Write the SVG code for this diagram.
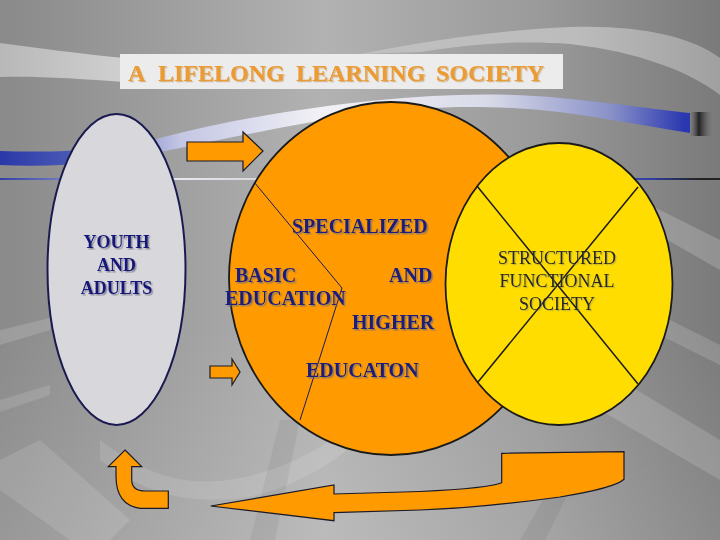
<svg xmlns="http://www.w3.org/2000/svg" width="720" height="540" viewBox="0 0 720 540">
<defs>
<linearGradient id="bg" x1="0" y1="0" x2="1" y2="0">
<stop offset="0" stop-color="#8a8a8a"/>
<stop offset="0.45" stop-color="#b2b2b2"/>
<stop offset="0.75" stop-color="#9a9a9a"/>
<stop offset="1" stop-color="#7a7a7a"/>
</linearGradient>
<linearGradient id="bgv" x1="0" y1="0" x2="0" y2="1">
<stop offset="0" stop-color="#ffffff" stop-opacity="0"/>
<stop offset="0.6" stop-color="#ffffff" stop-opacity="0"/>
<stop offset="1" stop-color="#ffffff" stop-opacity="0.12"/>
</linearGradient>
<linearGradient id="band" x1="0" y1="0" x2="720" y2="0" gradientUnits="userSpaceOnUse">
<stop offset="0" stop-color="#2a38a8"/>
<stop offset="0.12" stop-color="#5060b8"/>
<stop offset="0.25" stop-color="#c4c6e4"/>
<stop offset="0.45" stop-color="#f2f2f6"/>
<stop offset="0.68" stop-color="#d8dae8"/>
<stop offset="0.85" stop-color="#8890c8"/>
<stop offset="0.95" stop-color="#2a38b0"/>
</linearGradient>
<linearGradient id="hline" x1="0" y1="0" x2="720" y2="0" gradientUnits="userSpaceOnUse">
<stop offset="0" stop-color="#3040a8"/>
<stop offset="0.25" stop-color="#e8e8f0"/>
<stop offset="0.5" stop-color="#c0c0c8"/>
<stop offset="0.9" stop-color="#3040a8"/>
<stop offset="0.97" stop-color="#222"/>
</linearGradient>
<linearGradient id="swoosh" x1="0" y1="0" x2="1" y2="0">
<stop offset="0" stop-color="#c0c0c0"/>
<stop offset="0.6" stop-color="#bcbcbc"/>
<stop offset="1" stop-color="#a0a0a0"/>
</linearGradient>
<linearGradient id="swooshL" x1="0" y1="0" x2="1" y2="0">
<stop offset="0" stop-color="#b8b8b8"/>
<stop offset="1" stop-color="#d0d0d0"/>
</linearGradient>
<linearGradient id="endcap" x1="0" y1="0" x2="1" y2="0">
<stop offset="0" stop-color="#555" stop-opacity="0"/>
<stop offset="0.4" stop-color="#222"/>
<stop offset="1" stop-color="#777" stop-opacity="0.3"/>
</linearGradient>
<filter id="sh" x="-10%" y="-20%" width="130%" height="150%">
<feDropShadow dx="1.5" dy="1.5" stdDeviation="0.3" flood-color="#6a6a80" flood-opacity="0.7"/>
</filter>
<filter id="shY" x="-10%" y="-20%" width="130%" height="150%">
<feDropShadow dx="1.2" dy="1.2" stdDeviation="0.2" flood-color="#8a8a60" flood-opacity="0.5"/>
</filter>
<filter id="shT" x="-10%" y="-20%" width="130%" height="150%">
<feDropShadow dx="1.2" dy="1.2" stdDeviation="0.3" flood-color="#a06010" flood-opacity="0.4"/>
</filter>
<style>
.ser{font-family:"Liberation Serif","Times New Roman",serif;}
.navy{fill:#1c1c7a;font-weight:bold;font-size:20px;}
.yt{fill:#14147a;font-weight:bold;font-size:18px;text-anchor:middle;}
.st{fill:#262626;font-size:18px;text-anchor:middle;}
.arrow{fill:#ff9a00;stroke:#1a1a2a;stroke-width:1.2;stroke-linejoin:miter;}
.edge{stroke:#1a1a1a;stroke-width:1.8;}
</style>
</defs>

<!-- background -->
<g id="background">
<rect x="0" y="0" width="720" height="540" fill="url(#bg)"/>
<rect x="0" y="0" width="720" height="540" fill="url(#bgv)"/>
<path d="M0,43 C40,48 80,54 125,58 L125,82 C80,79 40,76 0,77 Z" fill="url(#swooshL)"/>
<path d="M360,54 C430,40 500,30 570,27 C640,25 690,36 720,58 L720,95 C690,72 640,52 570,44 C520,40 470,44 420,52 Z" fill="url(#swoosh)"/>
<path d="M0,151 C60,153 120,150 160,138 C230,120 300,108 380,100 C440,94 500,92 560,98 C620,104 660,110 690,113 L690,133 C640,125 590,115 540,110 C470,104 420,108 380,112 C300,122 230,138 160,152 C110,162 60,168 0,165 Z" fill="url(#band)"/>
<rect x="690" y="112" width="22" height="24" fill="url(#endcap)"/>
<rect x="0" y="178" width="720" height="2" fill="url(#hline)"/>
<rect x="700" y="178" width="20" height="2" fill="#222"/>
<path d="M0,330 L50,318 L50,330 L0,345 Z" fill="#ffffff" opacity="0.15"/>
<path d="M0,400 L50,385 L50,395 L0,412 Z" fill="#ffffff" opacity="0.12"/>
<path d="M0,460 L40,440 L130,520 L110,540 L70,540 L0,490 Z" fill="#ffffff" opacity="0.12"/>
<path d="M100,440 C140,470 180,490 240,478 C300,466 330,440 360,420 L375,430 C340,455 300,490 240,498 C180,505 140,490 100,460 Z" fill="#ffffff" opacity="0.12"/>
<path d="M640,200 L720,240 L720,270 L650,230 Z" fill="#ffffff" opacity="0.18"/>
<path d="M650,310 L720,345 L720,365 L660,335 Z" fill="#ffffff" opacity="0.15"/>
<path d="M620,380 L720,440 L720,480 L600,410 Z" fill="#ffffff" opacity="0.15"/>
<path d="M250,540 L280,420 L300,420 L275,540 Z" fill="#000000" opacity="0.05"/>
<path d="M520,540 L560,470 L580,470 L545,540 Z" fill="#000000" opacity="0.06"/>
</g>

<!-- title -->
<g id="title">
<rect x="120" y="54" width="443" height="35" fill="#ececec"/>
<text class="ser" y="81" font-size="24" font-weight="bold" fill="#ec9a30" filter="url(#shT)"><tspan x="128">A</tspan><tspan x="158">LIFELONG</tspan><tspan x="296">LEARNING</tspan><tspan x="436">SOCIETY</tspan></text>
</g>

<!-- left node -->
<g id="youth-adults">
<ellipse cx="116.5" cy="269.5" rx="69" ry="155.5" fill="#d8d8dc" stroke="#1a1a50" stroke-width="2"/>
<text class="ser yt" filter="url(#sh)"><tspan x="116.5" y="248">YOUTH</tspan><tspan x="116.5" y="271">AND</tspan><tspan x="116.5" y="294">ADULTS</tspan></text>
</g>

<!-- orange node -->
<g id="education">
<ellipse cx="391" cy="278.5" rx="162" ry="176.5" fill="#ff9a00" class="edge"/>
<polyline points="254,182 342,288 300,420" fill="none" stroke="#1a1a5a" stroke-width="1"/>
<g class="ser navy" filter="url(#sh)">
<text x="292" y="233">SPECIALIZED</text>
<text x="235" y="282">BASIC</text>
<text x="389" y="282">AND</text>
<text x="225" y="305">EDUCATION</text>
<text x="352" y="329">HIGHER</text>
<text x="306" y="377">EDUCATON</text>
</g>
</g>

<!-- yellow node -->
<g id="society">
<ellipse cx="559" cy="284" rx="113.5" ry="141" fill="#ffdd00" class="edge"/>
<line x1="477" y1="186" x2="638" y2="384" stroke="#1a1a1a" stroke-width="1.5"/>
<line x1="638" y1="187" x2="478" y2="382" stroke="#1a1a1a" stroke-width="1.5"/>
<text class="ser st" filter="url(#shY)"><tspan x="557" y="264">STRUCTURED</tspan><tspan x="557" y="287">FUNCTIONAL</tspan><tspan x="557" y="310">SOCIETY</tspan></text>
</g>

<!-- connectors -->
<g id="connectors">
<path class="arrow" d="M187,142 L243,142 L243,132 L263,151 L243,171 L243,161 L187,161 Z"/>
<path class="arrow" d="M210,366 L232,366 L232,359 L240,372 L232,385 L232,378 L210,378 Z"/>
<path class="arrow" d="M125,450 L141.7,466.7 L131.7,466.7 L131.7,480 Q132,491 145,491 L168.3,491 L168.3,508.3 L140,508.3 Q116,505 116,476 L116,466.7 L108.3,466.7 Z"/>
<path class="arrow" d="M210.7,506 L334,485 L334,494 L420,491.5 Q490,488 501.7,482.7 L501.7,453.3 L624,451.7 L624,479.3 Q615,488 560,497 Q480,508 420,510 L334,512.7 L334,520.7 Z"/>
</g>
</svg>
